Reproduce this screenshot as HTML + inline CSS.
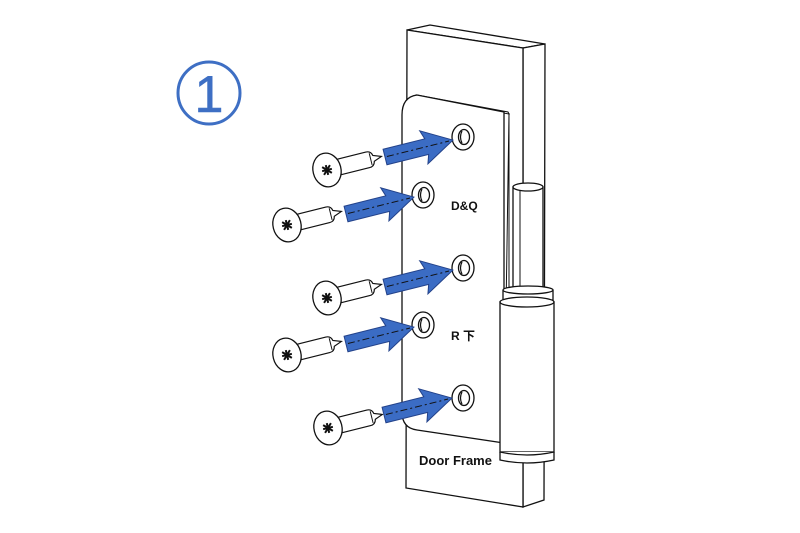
<!DOCTYPE html>
<html><head><meta charset="utf-8"><style>
html,body{margin:0;padding:0;background:#fff;}
svg{display:block;}
</style></head><body>
<svg width="800" height="533" viewBox="0 0 800 533" xmlns="http://www.w3.org/2000/svg">
<defs>
<g id="screw">
  <path d="M6,-8 L42,-8 Q47,-8 48,-3 L56,0 L48,3 Q47,8 42,8 L6,8 Z" fill="#fff" stroke="#111" stroke-width="1.2"/>
  <line x1="45" y1="-6" x2="45" y2="6" stroke="#111" stroke-width="1"/>
  <ellipse cx="0" cy="0" rx="14" ry="17" fill="#fff" stroke="#111" stroke-width="1.3"/>
  <g stroke="#111" stroke-width="2">
    <line x1="-5" y1="0" x2="5" y2="0"/><line x1="0" y1="-5" x2="0" y2="5"/>
    <line x1="-4" y1="-4" x2="4" y2="4"/><line x1="-4" y1="4" x2="4" y2="-4"/>
  </g>
</g>
<g id="arrow">
  <path d="M0,-8 L43,-8 L40,-17 L70,0 L40,17 L43,8 L0,8 Z" fill="#3b6cc4" stroke="#23428a" stroke-width="1"/>
  <line x1="2" y1="0" x2="66" y2="0" stroke="#111" stroke-width="1" stroke-dasharray="7,3,2,3"/>
</g>
<g id="hole">
  <ellipse cx="0" cy="0" rx="11" ry="13" fill="#fff" stroke="#111" stroke-width="1.3"/>
  <ellipse cx="1" cy="0" rx="5.5" ry="7.5" fill="#fff" stroke="#111" stroke-width="1.3"/>
  <path d="M-1,-6 Q-4,0 -1,6" fill="none" stroke="#111" stroke-width="1.2"/>
</g>
</defs>

<!-- circled 1 -->
<circle cx="209" cy="93" r="31" fill="none" stroke="#3e6fc4" stroke-width="3"/>
<text x="209" y="112" text-anchor="middle" font-family="Liberation Sans, sans-serif" font-size="52" fill="#3e6fc4" stroke="#3e6fc4" stroke-width="0.6">1</text>

<!-- door frame -->
<polygon points="407,30 430,25 545,44 523,48" fill="#fff" stroke="#111" stroke-width="1.3"/>
<polygon points="523,48 545,44 544,500 523,507" fill="#fff" stroke="#111" stroke-width="1.3"/>
<polygon points="407,30 523,48 523,507 406,488" fill="#fff" stroke="#111" stroke-width="1.3"/>

<!-- plate -->
<path d="M509,113 L509,444 L504,442 Z" fill="#fff" stroke="#111" stroke-width="1"/>
<path d="M417,95 L508,112 L509,114 L420,98 Z" fill="#fff" stroke="#111" stroke-width="1"/>
<path d="M417,95 Q402,97 402,115 L402,412 Q402,428 417,430 L504,443 L504,112 Z" fill="#fff" stroke="#111" stroke-width="1.3"/>

<!-- hinge pin -->
<rect x="513" y="187" width="30" height="103" fill="#fff" stroke="#111" stroke-width="1.3"/>
<ellipse cx="528" cy="187" rx="15" ry="4" fill="#fff" stroke="#111" stroke-width="1.3"/>
<line x1="520" y1="191" x2="520" y2="288" stroke="#111" stroke-width="1"/>
<!-- collar -->
<path d="M503,290 L503,300 L553,300 L553,290" fill="#fff" stroke="#111" stroke-width="1.3"/>
<ellipse cx="528" cy="290" rx="25" ry="4" fill="#fff" stroke="#111" stroke-width="1.3"/>
<!-- barrel -->
<rect x="500" y="302" width="54" height="150" fill="#fff" stroke="#111" stroke-width="1.3"/>
<ellipse cx="527" cy="302" rx="27" ry="5" fill="#fff" stroke="#111" stroke-width="1.3"/>
<path d="M500,452 L500,460 Q527,466 554,460 L554,452" fill="#fff" stroke="#111" stroke-width="1.3"/>
<path d="M500,452 Q527,458 554,452" fill="none" stroke="#111" stroke-width="1.3"/>

<!-- holes -->
<use href="#hole" x="463" y="137"/>
<use href="#hole" x="423" y="195"/>
<use href="#hole" x="463" y="268"/>
<use href="#hole" x="423" y="325"/>
<use href="#hole" x="463" y="398"/>

<!-- screws -->
<use href="#screw" transform="translate(327,170) rotate(-14)"/>
<use href="#screw" transform="translate(287,225) rotate(-14)"/>
<use href="#screw" transform="translate(327,298) rotate(-14)"/>
<use href="#screw" transform="translate(287,355) rotate(-14)"/>
<use href="#screw" transform="translate(328,428) rotate(-14)"/>

<!-- arrows -->
<use href="#arrow" transform="translate(385,157) rotate(-14)"/>
<use href="#arrow" transform="translate(346,214) rotate(-14)"/>
<use href="#arrow" transform="translate(385,287) rotate(-14)"/>
<use href="#arrow" transform="translate(346,344) rotate(-14)"/>
<use href="#arrow" transform="translate(384,415) rotate(-14)"/>

<!-- labels -->
<text x="451" y="210" font-family="Liberation Sans, sans-serif" font-size="12" font-weight="bold" fill="#111">D&amp;Q</text>
<text x="451" y="340" font-family="Liberation Sans, 'Noto Sans CJK SC', sans-serif" font-size="12" font-weight="bold" fill="#111">R 下</text>
<text x="419" y="465" font-family="Liberation Sans, sans-serif" font-size="13" font-weight="bold" fill="#111">Door Frame</text>
</svg>
</body></html>
